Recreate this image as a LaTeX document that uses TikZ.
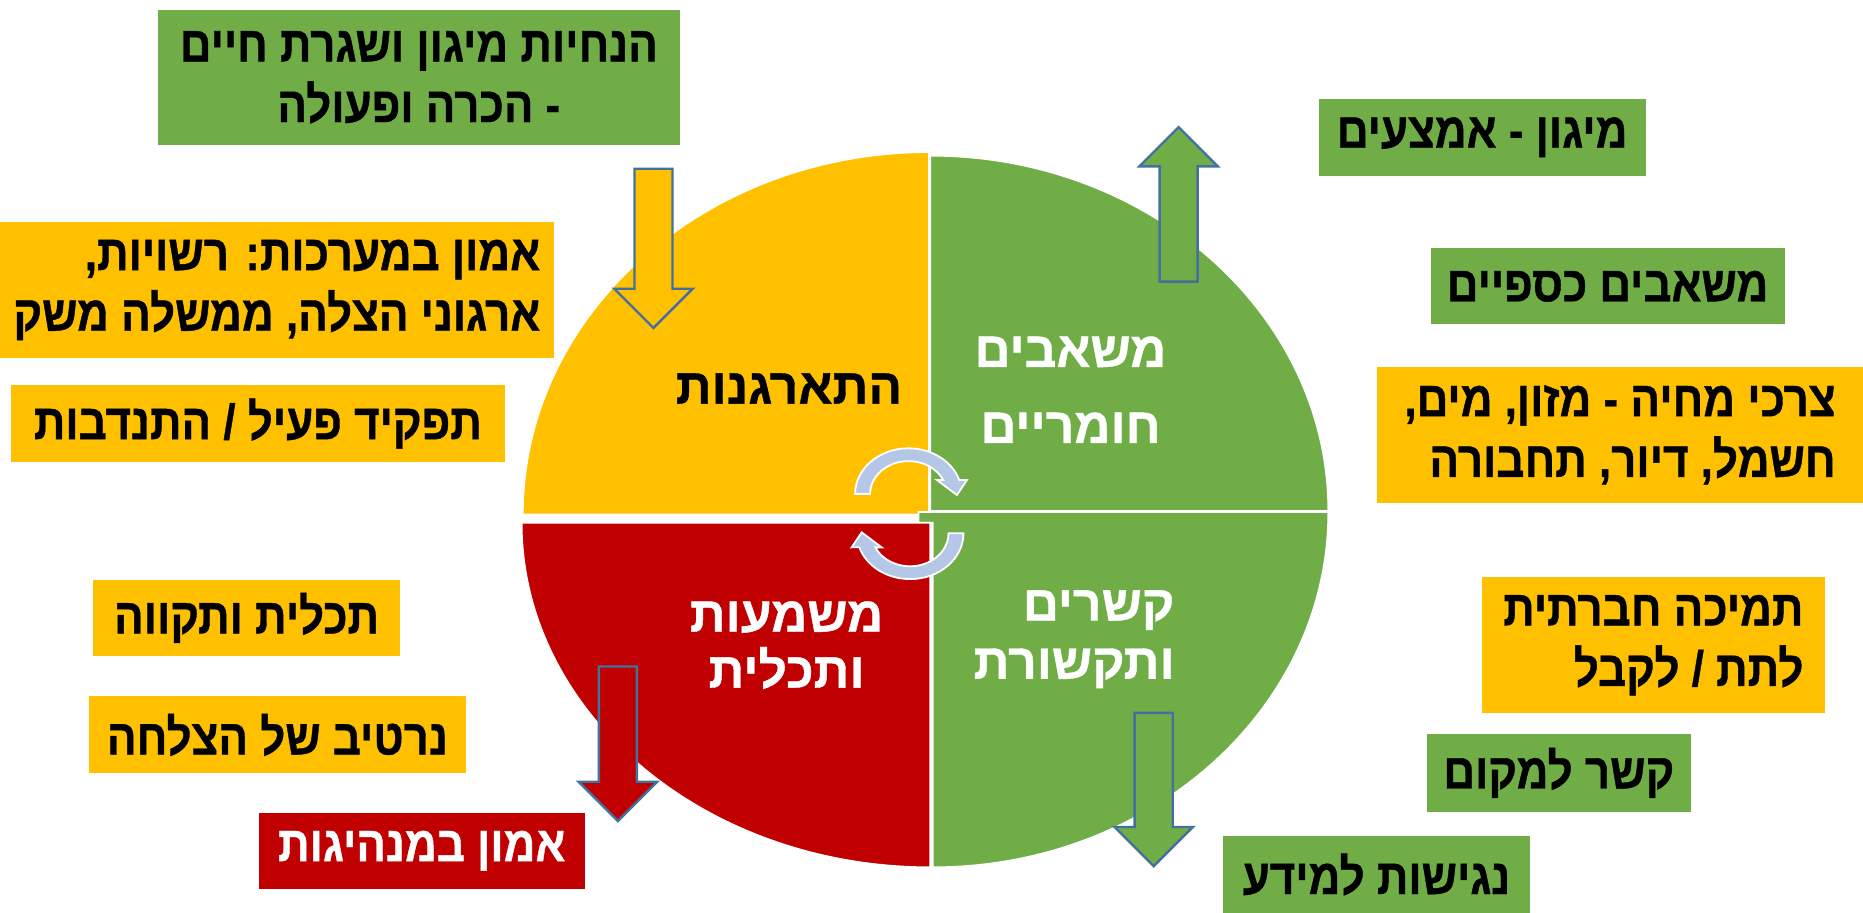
\documentclass[tikz,border=0pt]{standalone}
\usepackage{fontspec}
\newfontfamily\hebfont[Script=Hebrew,FakeStretch=0.88,FakeBold=0.8]{Liberation Sans}
\newfontfamily\hebwide[Script=Hebrew,FakeBold=0.8]{Liberation Sans}
\TeXXeTstate=1

\definecolor{grn}{HTML}{70AD47}
\definecolor{ylw}{HTML}{FFC000}
\definecolor{rd}{HTML}{C00000}
\definecolor{lblue}{HTML}{B4C7E7}
\definecolor{arrline}{HTML}{41719C}

\newcommand{\rtl}[1]{\beginR #1\endR}

\begin{document}
\begin{tikzpicture}[x=1pt, y=-1pt,
    every node/.style={font=\hebfont\bfseries\fontsize{42}{51}\selectfont},
    box/.style={inner sep=0pt, text=black},
    qlabel/.style={inner sep=0pt, text=white},
    blockdown/.pic={\draw[pic actions, line width=2pt] (0,0) -- (-33,-33) -- (-16,-33) -- (-16,-#1) -- (16,-#1) -- (16,-33) -- (33,-33) -- cycle;},
    cycarrow/.pic={\path[pic actions] (180:1) arc[start angle=180, end angle=17.8, radius=1] -- (1.096,0.306) -- (0.908,-0.022) -- (0.533,0.306) -- (0.652,0.306) arc[start angle=25.2, end angle=180, radius=0.72] -- cycle;}
]
\useasboundingbox (0,0) rectangle (1568,768);

% quarters
\path[fill=ylw, draw=white, line width=1.5pt] (782,433) -- (440,433) arc[start angle=180, end angle=270, x radius=342, y radius=305] -- cycle;
\path[fill=grn, draw=white, line width=1.5pt] (783,430) -- (783,131) arc[start angle=270, end angle=360, x radius=335, y radius=299] -- cycle;
\path[fill=grn, draw=white, line width=1.5pt] (773,431) -- (1118,431) arc[start angle=0, end angle=90, x radius=333, y radius=299] -- (785,440) -- (773,440) -- cycle;
\path[fill=rd, draw=white, line width=1.5pt] (783,440) -- (783,730) arc[start angle=90, end angle=180, x radius=344, y radius=290] -- cycle;

\node[box, font=\hebwide\bfseries\fontsize{42}{51}\selectfont] (org) at (664,327) {\rtl{התארגנות}};
\node[qlabel, align=center, font=\hebwide\bfseries\fontsize{42}{64}\selectfont] (material) at (901,328) {\rtl{משאבים}\\\rtl{חומריים}};
\node[qlabel, align=right, font=\hebwide\bfseries\fontsize{42}{49}\selectfont] (links) at (904,538) {\rtl{קשרים}\\\rtl{ותקשורת}};
\node[qlabel, align=center, font=\hebwide\bfseries\fontsize{42}{47}\selectfont] (meaning) at (662,543) {\rtl{משמעות}\\\rtl{ותכלית}};

% block arrows
\pic[fill=ylw, draw=arrline] at (550,276) {blockdown=134};
\pic[fill=grn, draw=arrline, rotate=180] at (992,107) {blockdown=130};
\pic[fill=rd, draw=arrline] at (520,691) {blockdown=130};
\pic[fill=grn, draw=arrline] at (971,729) {blockdown=129};

% cycle arrows
\pic[fill=lblue, draw=white, line width=1.5pt, xscale=44.9, yscale=-38.5] at (764.6,415.8) {cycarrow};
\pic[fill=lblue, draw=white, line width=1.5pt, xscale=-44.9, yscale=38.5] at (766,448.9) {cycarrow};

% left boxes
\node[box, fill=grn, minimum width=439, minimum height=114, align=center] (guide) at (352.5,65) {\rtl{הנחיות מיגון ושגרת חיים}\\\rtl{- הכרה ופעולה}};
\node[box, fill=ylw, minimum width=466, minimum height=114, align=right] (trustsys) at (233,244) {\rtl{אמון במערכות: רשויות,}\\\rtl{ארגוני הצלה, ממשלה משק}};
\node[box, fill=ylw, minimum width=416, minimum height=65] (role) at (217,356.5) {\rtl{תפקיד פעיל / התנדבות}};
\node[box, fill=ylw, minimum width=259, minimum height=64] (purpose) at (207.5,520) {\rtl{תכלית ותקווה}};
\node[box, fill=ylw, minimum width=317, minimum height=65] (narrative) at (233.5,618.5) {\rtl{נרטיב של הצלחה}};
\node[box, fill=rd, text=white, minimum width=274, minimum height=64] (leaders) at (355,716) {\rtl{אמון במנהיגות}};

% right boxes
\node[box, fill=grn, minimum width=275, minimum height=65] (protect) at (1247.5,115.5) {\rtl{מיגון - אמצעים}};
\node[box, fill=grn, minimum width=298, minimum height=64] (funds) at (1353,241) {\rtl{משאבים כספיים}};
\node[box, fill=ylw, minimum width=409, minimum height=114, align=right] (needs) at (1363.5,366) {\rtl{צרכי מחיה - מזון, מים,}\\\rtl{חשמל, דיור, תחבורה}};
\node[box, fill=ylw, minimum width=289, minimum height=114, align=right] (support) at (1391.5,543) {\rtl{תמיכה חברתית}\\\rtl{לתת / לקבל}};
\node[box, fill=grn, minimum width=222, minimum height=65] (place) at (1312,650.5) {\rtl{קשר למקום}};
\node[box, fill=grn, minimum width=259, minimum height=64] (info) at (1158.5,736) {\rtl{נגישות למידע}};
\end{tikzpicture}
\end{document}
